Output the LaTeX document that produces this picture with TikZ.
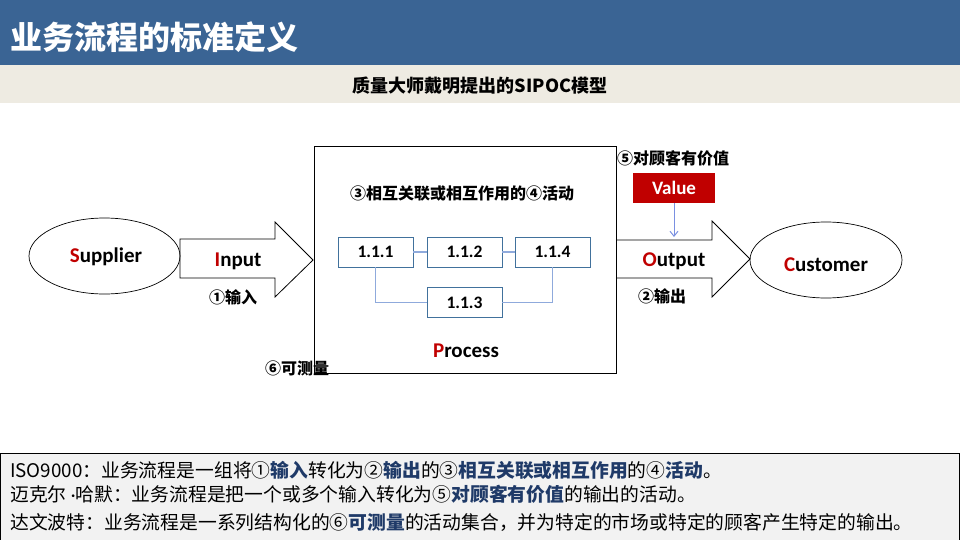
\documentclass[tikz,border=0pt]{standalone}
\usepackage{fontspec}
\setmainfont{Noto Sans CJK SC}
\newfontfamily\lat{Carlito}
\usetikzlibrary{arrows.meta,shapes.geometric}
\definecolor{hdrblue}{HTML}{3A6494}
\definecolor{subbg}{HTML}{EEEBE2}
\definecolor{redi}{HTML}{C00000}
\definecolor{boxblue}{HTML}{41719C}
\definecolor{linkblue}{HTML}{8FAADC}
\definecolor{darkblue}{HTML}{1F3A68}
\definecolor{botbg}{HTML}{F2F2F2}
\newcommand{\hb}[1]{\textbf{\color{darkblue}#1}}
\newcommand{\ri}[1]{{\color{redi}#1}}
\tikzset{
  lbl/.style={font=\fontsize{16}{18}\selectfont\bfseries, inner sep=0pt},
  eng/.style={font=\fontsize{21}{24}\selectfont\lat\bfseries, inner sep=0pt},
  numbox/.style={draw=boxblue, line width=0.9pt, minimum width=75pt, minimum height=30pt, inner sep=0pt, font=\fontsize{17.5}{19}\selectfont\lat\bfseries},
  link/.style={draw=linkblue, line width=1.3pt},
  ell/.style={draw=black, ellipse, line width=0.7pt},
  bottxt/.style={anchor=west, inner sep=0pt, font=\fontsize{18.8}{20}\selectfont}
}
\begin{document}
\begin{tikzpicture}[x=1pt,y=-1pt]
\useasboundingbox (0,0) rectangle (960,540);
% header
\fill[hdrblue] (0,0) rectangle (960,65);
\fill[subbg] (0,65) rectangle (960,103);
\node[anchor=west, inner sep=0pt, text=white, font=\fontsize{32}{36}\selectfont\bfseries] (title) at (10,37) {业务流程的标准定义};
\node[inner sep=0pt, font=\fontsize{18}{20}\selectfont\bfseries] (sub) at (480,86) {质量大师戴明提出的SIPOC模型};
% process box
\node[draw, line width=0.8pt, minimum width=302pt, minimum height=227pt, inner sep=0pt] (proc) at (465,259.5) {};
\node[inner sep=0pt, font=\fontsize{16}{18}\selectfont\bfseries] (act) at (462,193) {③相互关联或相互作用的④活动};
\node[numbox] (b1) at (375.5,252) {1.1.1};
\node[numbox] (b2) at (464.5,252) {1.1.2};
\node[numbox] (b4) at (552.5,252) {1.1.4};
\node[numbox] (b3) at (464.5,302.5) {1.1.3};
\draw[link] (b1.east) -- (b2.west);
\draw[link] (b2.east) -- (b4.west);
\draw[link] (b1.south) |- (b3.west);
\draw[link] (b3.east) -| (b4.south);
\node[eng] (ptxt) at (466,351) {\ri{P}rocess};
% supplier
\node[ell, minimum width=151pt, minimum height=76pt] (sup) at (104.5,256) {};
\node[eng] (suptxt) at (106,257) {\ri{S}upplier};
% input arrow
\draw[line width=0.8pt] (180,239) -- (275,239) -- (275,222) -- (313,260) -- (275,297) -- (275,278) -- (180,278) -- cycle;
\node[eng] (intxt) at (238,261) {\ri{I}nput};
\node[lbl] (in1) at (233,297) {①输入};
\node[lbl] (m6) at (297,368) {⑥可测量};
% output arrow
\draw[line width=0.8pt] (proc.east |- 0,240) -- (712,240) -- (712,221) -- (750,259) -- (712,297) -- (712,278) -- (proc.east |- 0,278);
\node[eng] (outtxt) at (674,261) {\ri{O}utput};
\node[lbl] (out2) at (662,296) {②输出};
% customer
\node[ell, minimum width=152pt, minimum height=76pt] (cus) at (826,260) {};
\node[eng] (custxt) at (826,265) {\ri{C}ustomer};
% value
\node[lbl] (v5) at (673,158) {⑤对顾客有价值};
\node[fill=redi, minimum width=82pt, minimum height=30pt, inner sep=0pt, text=white, font=\fontsize{19}{21}\selectfont\lat\bfseries] (val) at (674,188) {Value};
\coordinate (vend) at (674,237);
\draw[-{Straight Barb[length=5pt,width=8pt]}, draw=linkblue!85!blue, line width=1pt] (val.south) -- (vend);
% bottom box
\draw[fill=botbg, line width=0.8pt] (0,453) rectangle (959.5,540);
\node[bottxt] (l1) at (10,470) {ISO9000：业务流程是一组将①\hb{输入}转化为②\hb{输出}的③\hb{相互关联或相互作用}的④\hb{活动}。};
\node[bottxt] (l2) at (10,494) {迈克尔 {\lat·}哈默：业务流程是把一个或多个输入转化为⑤\hb{对顾客有价值}的输出的活动。};
\node[bottxt] (l3) at (10,523) {达文波特：业务流程是一系列结构化的⑥\hb{可测量}的活动集合，并为特定的市场或特定的顾客产生特定的输出。};
\end{tikzpicture}
\end{document}
